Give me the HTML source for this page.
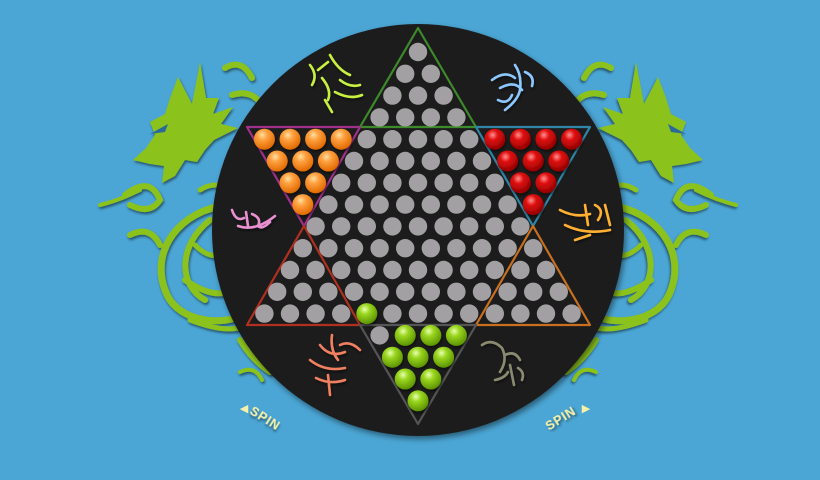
<!DOCTYPE html>
<html><head><meta charset="utf-8"><style>
html,body{margin:0;padding:0;width:820px;height:480px;overflow:hidden;background:#4ba6d5;}
svg{display:block}
</style></head><body>
<svg id="s" width="820" height="480" viewBox="0 0 820 480">
<defs>
<filter id="sh" x="-20%" y="-20%" width="140%" height="140%"><feDropShadow dx="2" dy="3" stdDeviation="3" flood-color="#000" flood-opacity="0.45"/></filter>
<filter id="sh2" x="-20%" y="-20%" width="140%" height="140%"><feDropShadow dx="1" dy="2" stdDeviation="1.2" flood-color="#000" flood-opacity="0.5"/></filter>
<radialGradient id="gO" cx="40%" cy="30%" r="70%"><stop offset="0" stop-color="#ffe0a0"/><stop offset="0.35" stop-color="#ffa040"/><stop offset="1" stop-color="#e06a00"/></radialGradient>
<radialGradient id="gR" cx="40%" cy="30%" r="70%"><stop offset="0" stop-color="#ff9090"/><stop offset="0.35" stop-color="#e01010"/><stop offset="1" stop-color="#900000"/></radialGradient>
<radialGradient id="gG" cx="40%" cy="30%" r="70%"><stop offset="0" stop-color="#e8ffb0"/><stop offset="0.35" stop-color="#9ad620"/><stop offset="1" stop-color="#5c9400"/></radialGradient>
<g id="dragon">
 <path d="M178,77 L192,104 L200,62 L206,98 L219,98 L213,114 L233,107 L221,124 L238,128 L214,140 L205,150 L197,162 L185,160 L175,176 L162,183 L164,166 L150,164 L133,160 L146,148 L155,135 L150,122 L165,114 L170,98 Z" fill="#8cc21e"/>
 <path d="M150,134 L168,124 L165,132 Z" fill="#2a6a9a"/>
 <path d="M225,68 Q242,58 252,78 M232,95 Q248,90 258,100" stroke="#8cc21e" stroke-width="6" fill="none" stroke-linecap="round"/>
 <g stroke="#8cc21e" fill="none" stroke-linecap="round">
  <path d="M228,205 C180,210 150,250 165,290 C175,320 215,325 235,318" stroke-width="7"/>
  <path d="M210,220 C178,245 178,285 205,300" stroke-width="6"/>
  <path d="M195,245 C205,255 215,260 230,250" stroke-width="5"/>
  <path d="M125,195 Q150,175 160,200 Q150,215 130,205" stroke-width="6"/>
  <path d="M100,205 Q120,200 140,190" stroke-width="4"/>
  <path d="M130,235 Q150,225 160,245" stroke-width="6"/>
  <path d="M185,280 Q215,300 230,290" stroke-width="6"/>
  <path d="M190,320 Q230,335 245,325" stroke-width="5"/>
  <path d="M200,190 Q215,180 232,190" stroke-width="5"/>
  <path d="M240,340 Q252,360 270,372" stroke-width="6"/>
  <path d="M240,372 Q255,365 262,380" stroke-width="4"/>
 </g>
</g>
</defs>
<g filter="url(#sh2)"><use href="#dragon"/></g>
<g filter="url(#sh2)" transform="translate(836,0) scale(-1,1)"><use href="#dragon"/></g>
<circle cx="418" cy="230" r="206" fill="#1c1c1c" filter="url(#sh)"/>
<g id="tri" fill="none" stroke-width="2.2" stroke-linejoin="round"></g>
<g id="holes"></g>
<g id="glyphs" fill="none" stroke-width="2.6" stroke-linecap="round" stroke-linejoin="round" filter="url(#sh2)">
 <g stroke="#c8f040"><path d="M310,65 Q318,75 312,85 M318,70 L328,62 M322,78 Q332,90 328,100 M330,55 Q338,70 350,75 M340,80 Q350,88 360,85 M335,92 Q350,100 362,95 M325,100 L332,112"/></g>
 <g stroke="#8cc8ff"><path d="M492,80 Q505,70 515,78 M500,88 Q515,80 522,90 M498,100 Q508,105 512,95 M515,65 Q522,75 520,90 Q518,100 505,110 M525,72 Q535,76 532,86"/></g>
 <g stroke="#e890d0"><path d="M232,210 Q236,222 244,218 M246,212 L248,226 M252,214 Q262,218 258,226 Q262,230 270,222 M238,226 Q255,232 275,216"/></g>
 <g stroke="#ffb030"><path d="M560,210 Q575,218 590,214 M585,205 L588,225 M595,205 Q605,210 598,220 M605,205 L610,225 M565,225 Q585,235 610,230 M575,240 L590,235"/></g>
 <g stroke="#f08060"><path d="M332,335 Q330,350 338,360 M320,345 Q330,358 345,352 M310,360 Q325,372 345,368 M316,378 Q330,385 345,380 M328,375 L330,395 M340,345 Q350,340 360,350"/></g>
 <g stroke="#8a8a70"><path d="M482,345 Q492,338 502,348 Q508,360 500,372 M505,355 Q515,350 520,360 M510,365 L514,385 M518,368 Q525,372 522,380 M495,380 Q505,378 508,372"/></g>
</g>
<g transform="translate(263,422) rotate(32)"><text x="0" y="0" text-anchor="middle" font-family="Liberation Sans, sans-serif" font-weight="bold" font-size="12.5" letter-spacing="1" fill="#f7f0a8" filter="url(#sh2)">SPIN</text></g>
<text x="244" y="412" text-anchor="middle" font-family="DejaVu Sans, sans-serif" font-size="11" fill="#f7f0a8">◀</text>
<g transform="translate(563,422) rotate(-32)"><text x="0" y="0" text-anchor="middle" font-family="Liberation Sans, sans-serif" font-weight="bold" font-size="12.5" letter-spacing="1" fill="#f7f0a8" filter="url(#sh2)">SPIN</text></g>
<text x="586" y="412" text-anchor="middle" font-family="DejaVu Sans, sans-serif" font-size="11" fill="#f7f0a8">▶</text>
</svg>
<script>
const rowLengths=[1,2,3,4,13,12,11,10,9,10,11,12,13,4,3,2,1];
const orangePieces=[[4,0],[4,1],[4,2],[4,3],[5,0],[5,1],[5,2],[6,0],[6,1],[7,0]];
const redPiecesFromEnd=[[4,0],[4,1],[4,2],[4,3],[5,0],[5,1],[5,2],[6,0],[6,1],[7,0]];
const greenPieces=[[12,4],[13,1],[13,2],[13,3],[14,0],[14,1],[14,2],[15,0],[15,1],[16,0]];
const NS='http://www.w3.org/2000/svg';
const cx=418, y0=52, dy=21.8, dx=25.6;
function holeX(r,i){return cx+(i-(rowLengths[r]-1)/2)*dx;}
function holeY(r){return y0+r*dy;}
const holes=document.getElementById('holes');
const key=(r,i)=>r+'_'+i;
const pm={};
orangePieces.forEach(p=>pm[key(p[0],p[1])]='gO');
redPiecesFromEnd.forEach(p=>{const n=rowLengths[p[0]];pm[key(p[0],n-1-p[1])]='gR';});
greenPieces.forEach(p=>pm[key(p[0],p[1])]='gG');
for(let r=0;r<rowLengths.length;r++){
 for(let i=0;i<rowLengths[r];i++){
  const c=document.createElementNS(NS,'circle');
  const x=holeX(r,i), y=holeY(r);
  c.setAttribute('cx',x.toFixed(1));c.setAttribute('cy',y.toFixed(1));
  const g=pm[key(r,i)];
  if(g){
   c.setAttribute('r','10.5');c.setAttribute('fill','url(#'+g+')');
   c.setAttribute('filter','url(#sh2)');
   
   
  }else{
   c.setAttribute('r','9.2');c.setAttribute('fill','#a2a0a2');
   
   
  }
  holes.appendChild(c);
 }
}
const tri=document.getElementById('tri');
const tris=[
 ['top-triangle','#3d8a2a',[[418,28],[360,127],[476,127]]],
 ['top-left-triangle','#a0308a',[[247,127],[360,127],[304,226]]],
 ['top-right-triangle','#2f86a8',[[476,127],[590,127],[533,226]]],
 ['bottom-left-triangle','#b03020',[[304,226],[247,325],[360,325]]],
 ['bottom-right-triangle','#c87020',[[533,226],[476,325],[590,325]]],
 ['bottom-triangle','#555555',[[360,325],[476,325],[418,424]]]
];
tris.forEach(t=>{
 const p=document.createElementNS(NS,'polygon');
 p.setAttribute('points',t[2].map(q=>q.join(',')).join(' '));
 p.setAttribute('stroke',t[1]);
 
 
 tri.appendChild(p);
});
</script>
</body></html>
